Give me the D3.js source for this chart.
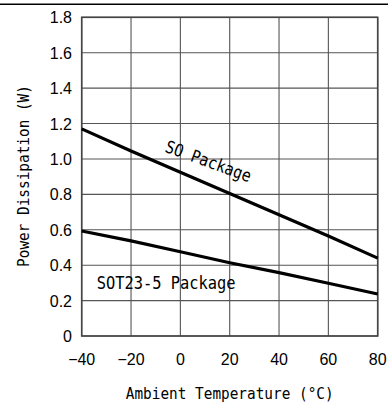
<!DOCTYPE html>
<html>
<head>
<meta charset="utf-8">
<script src="https://cdn.jsdelivr.net/npm/d3@7"></script>
<style>
  body { margin: 0; background: #fff; }
  .tick-label { font-family: "Liberation Sans Narrow", "Arial Narrow", "Liberation Sans", Arial, sans-serif; font-stretch: condensed; font-size: 16px; fill: #000; }
  .mono { font-family: "DejaVu Sans Mono", "Liberation Mono", monospace; fill: #000; }
</style>
</head>
<body>
<script>
// values
var temps = [-40, -20, 0, 20, 40, 60, 80];
var soPower = [1.17, 1.045, 0.925, 0.805, 0.685, 0.565, 0.44];
var sotPower = [0.593, 0.537, 0.476, 0.414, 0.358, 0.298, 0.237];
var xTicks = [-40, -20, 0, 20, 40, 60, 80];
var yTicks = [0, 0.2, 0.4, 0.6, 0.8, 1.0, 1.2, 1.4, 1.6, 1.8];
var yTickText = ["0", "0.2", "0.4", "0.6", "0.8", "1.0", "1.2", "1.4", "1.6", "1.8"];

function build(){
  var width = 388;
  var height = 406;
  var left = 81.7, right = 377.7, top = 17.3, bottom = 336;
  var stretch = 1.15; // datasheet lettering is taller than DejaVu

  var svg = d3.select("body").append("svg").attr("width", width).attr("height", height);

  var x = d3.scaleLinear().domain([-40, 80]).range([left, right]);
  var y = d3.scaleLinear().domain([0, 1.8]).range([bottom, top]);

  // rule across the top of the page
  svg.append("line")
     .attr("x1", 0).attr("x2", width)
     .attr("y1", 4.3).attr("y2", 4.3)
     .attr("stroke", "#000").attr("stroke-width", 1.6);

  // grid
  svg.append("g").selectAll("line")
     .data(xTicks)
     .enter()
     .append("line")
     .attr("x1", function(d){ return x(d); })
     .attr("x2", function(d){ return x(d); })
     .attr("y1", top).attr("y2", bottom)
     .attr("stroke", "#555").attr("stroke-width", 1.1);

  svg.append("g").selectAll("line")
     .data(yTicks)
     .enter()
     .append("line")
     .attr("x1", left).attr("x2", right)
     .attr("y1", function(d){ return y(d); })
     .attr("y2", function(d){ return y(d); })
     .attr("stroke", "#555").attr("stroke-width", 1.1);

  svg.append("rect")
     .attr("x", left).attr("y", top)
     .attr("width", right - left).attr("height", bottom - top)
     .attr("fill", "none").attr("stroke", "#444").attr("stroke-width", 1.6);

  // tick labels
  svg.append("g").selectAll("text")
     .data(yTicks)
     .enter()
     .append("text")
     .attr("class", "tick-label")
     .attr("x", 72)
     .attr("y", function(d){ return y(d); })
     .attr("dy", "0.38em")
     .attr("text-anchor", "end")
     .text(function(d, i){ return yTickText[i]; });

  svg.append("g").selectAll("text")
     .data(xTicks)
     .enter()
     .append("text")
     .attr("class", "tick-label")
     .attr("x", function(d){ return x(d); })
     .attr("y", 365)
     .attr("text-anchor", "middle")
     .text(function(d){ return d < 0 ? "\u2212" + Math.abs(d) : String(d); });

  // curves
  var line = d3.line()
     .x(function(d){ return x(d[0]); })
     .y(function(d){ return y(d[1]); });

  [soPower, sotPower].forEach(function(series){
    svg.append("path")
       .datum(d3.zip(temps, series))
       .attr("d", line)
       .attr("fill", "none")
       .attr("stroke", "#000")
       .attr("stroke-width", 3.2);
  });

  // curve labels
  svg.append("text")
     .attr("class", "mono")
     .attr("font-size", 15)
     .attr("transform", "translate(164,151.5) rotate(20) scale(1," + stretch + ")")
     .text("SO Package");

  svg.append("text")
     .attr("class", "mono")
     .attr("font-size", 15.4)
     .attr("transform", "translate(96.7,289.3) scale(1," + stretch + ")")
     .text("SOT23-5 Package");

  // axis titles
  svg.append("text")
     .attr("class", "mono")
     .attr("font-size", 14.4)
     .attr("transform", "translate(" + ((left + right) / 2) + ",399.3) scale(1," + stretch + ")")
     .attr("text-anchor", "middle")
     .text("Ambient Temperature (\u00b0C)");

  svg.append("text")
     .attr("class", "mono")
     .attr("font-size", 14.4)
     .attr("transform", "translate(29,176) rotate(-90) scale(1," + stretch + ")")
     .attr("text-anchor", "middle")
     .text("Power Dissipation (W)");
}
build();
</script>
</body>
</html>
